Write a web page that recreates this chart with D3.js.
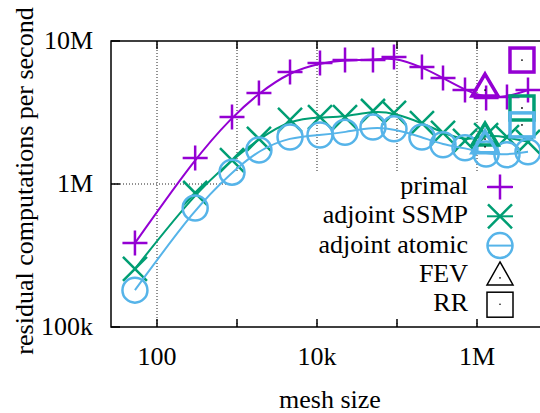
<!DOCTYPE html>
<html>
<head>
<meta charset="utf-8">
<script src="https://cdn.jsdelivr.net/npm/d3@7"></script>
<style>
  html, body { margin: 0; padding: 0; background: #fff; }
  svg { display: block; }
</style>
</head>
<body>
<div id="chart"></div>
<script>
// mesh sizes (x) and throughput per series (y)
const meshSizes = [53, 300, 866, 1880, 4600, 10900, 22400, 50100, 91700, 205000, 376000, 708000, 1300000, 2370000, 4340000];
const primal = [386e3, 1.52e6, 2.94e6, 4.33e6, 6.07e6, 7.01e6, 7.36e6, 7.36e6, 7.73e6, 6.58e6, 5.51e6, 4.54e6, 3.99e6, 4.06e6, 4.54e6];
const adjointSSMP = [255e3, 865e3, 1.47e6, 2.07e6, 2.81e6, 2.94e6, 2.94e6, 3.24e6, 3.14e6, 2.67e6, 2.28e6, 2.0e6, 2.2e6, 2.13e6, 1.97e6];
const adjointAtomic = [181e3, 680e3, 1.21e6, 1.73e6, 2.13e6, 2.2e6, 2.3e6, 2.5e6, 2.43e6, 2.13e6, 1.88e6, 1.79e6, 1.62e6, 1.6e6, 1.68e6];

// reference codes, one value per series (primal, SSMP, atomic)
const fevMesh = 1260000;
const fevValues = [4.54e6, 2.06e6, 1.82e6];
const rrMesh = 3650000;
const rrValues = [7.36e6, 3.40e6, 2.59e6];

const xTicks = [1e2, 1e3, 1e4, 1e5, 1e6, 1e7];
const xTickLabels = { 100: '100', 10000: '10k', 1000000: '1M' };
const yTicks = [1e5, 1e6, 1e7];
const yTickLabels = ['100k', '1M', '10M'];

const colors = ['#9400d3', '#009e73', '#56b4e9'];
const seriesNames = ['primal', 'adjoint SSMP', 'adjoint atomic'];
const seriesValues = [primal, adjointSSMP, adjointAtomic];
const seriesShapes = ['plus', 'cross', 'circle'];

const width = 540, height = 413;
const margin = { top: 41, left: 111, bottom: 86 };
const decade = 80;
const font = '"Liberation Serif", "Times New Roman", serif';
const fontSize = '26px';

const svg = d3.select('#chart').append('svg')
    .attr('width', width)
    .attr('height', height)
    .style('font-family', font);

const x = d3.scaleLog()
    .domain([Math.pow(10, 1.425), Math.pow(10, 7.425)])
    .range([margin.left, margin.left + 6 * decade]);

const y = d3.scaleLog()
    .domain([1e5, 1e7])
    .range([height - margin.bottom, margin.top]);

const x0 = margin.left, y0 = height - margin.bottom;

// grid
const grid = svg.append('g')
    .attr('stroke', '#222')
    .attr('stroke-width', 1)
    .attr('stroke-dasharray', '1,2');

xTicks.forEach(t => {
    grid.append('line')
        .attr('x1', x(t)).attr('x2', x(t))
        .attr('y1', margin.top).attr('y2', y0);
});
grid.append('line')
    .attr('x1', x0).attr('x2', width)
    .attr('y1', y(1e6)).attr('y2', y(1e6));

// opaque key box
svg.append('rect')
    .attr('x', 226).attr('y', 173)
    .attr('width', width - 226).attr('height', 149)
    .attr('fill', '#fff');

// markers
function drawMarker(g, shape, cx, cy, color) {
    const s = 12.5;
    if (shape === 'plus') {
        g.append('path')
            .attr('d', `M${cx - s},${cy}H${cx + s}M${cx},${cy - s}V${cy + s}`)
            .attr('stroke', color).attr('stroke-width', 2.5).attr('fill', 'none');
    } else if (shape === 'cross') {
        const d = 12;
        g.append('path')
            .attr('d', `M${cx - d},${cy - d}L${cx + d},${cy + d}M${cx - d},${cy + d}L${cx + d},${cy - d}`)
            .attr('stroke', color).attr('stroke-width', 2.5).attr('fill', 'none');
    } else if (shape === 'circle') {
        g.append('circle')
            .attr('cx', cx).attr('cy', cy).attr('r', s)
            .attr('stroke', color).attr('stroke-width', 2.5).attr('fill', 'none');
    } else if (shape === 'triangle') {
        g.append('path')
            .attr('d', `M${cx},${cy - 16}L${cx + 13},${cy + 6}L${cx - 13},${cy + 6}Z`)
            .attr('stroke', color).attr('stroke-width', 3.5).attr('fill', 'none')
            .attr('stroke-linejoin', 'miter');
        g.append('circle').attr('cx', cx).attr('cy', cy).attr('r', 0.9).attr('fill', '#000');
    } else if (shape === 'square') {
        g.append('rect')
            .attr('x', cx - 12).attr('y', cy - 12)
            .attr('width', 24).attr('height', 24)
            .attr('stroke', color).attr('stroke-width', 3.5).attr('fill', 'none');
        g.append('circle').attr('cx', cx).attr('cy', cy).attr('r', 0.9).attr('fill', '#000');
    }
}

const line = d3.line()
    .x(d => x(d[0]))
    .y(d => y(d[1]))
    .curve(d3.curveBasis);

const plot = svg.append('g');

seriesValues.forEach((vals, i) => {
    const pts = meshSizes.map((m, j) => [m, vals[j]]);
    plot.append('path')
        .datum(pts)
        .attr('d', line)
        .attr('fill', 'none')
        .attr('stroke', colors[i])
        .attr('stroke-width', 2);
    pts.forEach(p => drawMarker(plot, seriesShapes[i], x(p[0]), y(p[1]), colors[i]));
});

fevValues.forEach((v, i) => drawMarker(plot, 'triangle', x(fevMesh), y(v), colors[i]));
rrValues.forEach((v, i) => drawMarker(plot, 'square', x(rrMesh), y(v), colors[i]));

// frame
svg.append('path')
    .attr('d', `M${width},${margin.top}H${x0}V${y0}H${width}`)
    .attr('fill', 'none')
    .attr('stroke', '#000')
    .attr('stroke-width', 1.5);

// ticks
const ticks = svg.append('g').attr('stroke', '#000').attr('stroke-width', 1.5);
xTicks.forEach(t => {
    ticks.append('line').attr('x1', x(t)).attr('x2', x(t)).attr('y1', y0).attr('y2', y0 - 8);
    ticks.append('line').attr('x1', x(t)).attr('x2', x(t)).attr('y1', margin.top).attr('y2', margin.top + 8);
});
yTicks.forEach(t => {
    ticks.append('line').attr('x1', x0).attr('x2', x0 + 9).attr('y1', y(t)).attr('y2', y(t));
});

// tick labels
Object.keys(xTickLabels).forEach(k => {
    svg.append('text')
        .attr('x', x(+k)).attr('y', 365)
        .attr('text-anchor', 'middle')
        .attr('font-size', fontSize)
        .text(xTickLabels[k]);
});
yTicks.forEach((t, i) => {
    svg.append('text')
        .attr('x', 93).attr('y', y(t) + 8)
        .attr('text-anchor', 'end')
        .attr('font-size', fontSize)
        .text(yTickLabels[i]);
});

// axis titles
svg.append('text')
    .attr('x', 330).attr('y', 408)
    .attr('text-anchor', 'middle')
    .attr('font-size', fontSize)
    .text('mesh size');

svg.append('text')
    .attr('transform', 'translate(33,181) rotate(-90)')
    .attr('text-anchor', 'middle')
    .attr('font-size', fontSize)
    .text('residual computations per second');

// key
const keyNames = [...seriesNames, 'FEV', 'RR'];
const keyShapes = [...seriesShapes, 'triangle', 'square'];
const keyColors = [...colors, '#000', '#000'];
const key = svg.append('g');
keyNames.forEach((name, i) => {
    const cy = 187 + i * 29.3;
    key.append('text')
        .attr('x', 468).attr('y', cy + 7)
        .attr('text-anchor', 'end')
        .attr('font-size', fontSize)
        .text(name);
    if (i < 3) {
        key.append('line')
            .attr('x1', 487).attr('x2', 513)
            .attr('y1', cy).attr('y2', cy)
            .attr('stroke', keyColors[i]).attr('stroke-width', 2);
    }
    const shape = keyShapes[i];
    if (shape === 'triangle') {
        key.append('path')
            .attr('d', `M500,${cy - 13}L513,${cy + 10}L487,${cy + 10}Z`)
            .attr('stroke', '#000').attr('stroke-width', 1.5).attr('fill', 'none');
        key.append('circle').attr('cx', 500).attr('cy', cy + 3).attr('r', 0.8).attr('fill', '#000');
    } else if (shape === 'square') {
        key.append('rect')
            .attr('x', 487).attr('y', cy - 12).attr('width', 26).attr('height', 25)
            .attr('stroke', '#000').attr('stroke-width', 1.5).attr('fill', 'none');
        key.append('circle').attr('cx', 500).attr('cy', cy).attr('r', 0.8).attr('fill', '#000');
    } else {
        drawMarker(key, shape, 500, cy, keyColors[i]);
    }
});
</script>
</body>
</html>
